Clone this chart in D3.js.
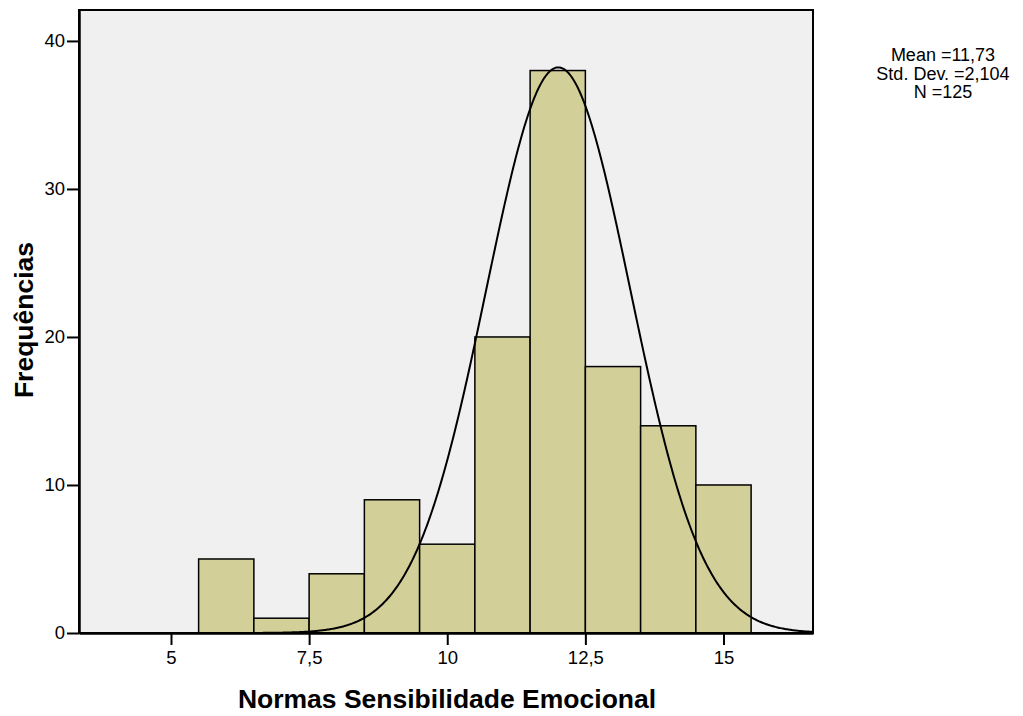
<!DOCTYPE html>
<html lang="pt">
<head>
  <meta charset="UTF-8">
  <title>Normas Sensibilidade Emocional</title>
  <script src="https://d3js.org/d3.v7.min.js"></script>
  <style>
    body { margin: 0; background: #fff; }
    svg { display: block; font-family: Arial, "Liberation Sans", sans-serif; }
  </style>
</head>
<body>
  <svg id="chart" width="1023" height="716"></svg>

  <script>
    // histogram bins (lower edge) and counts
    const binStarts = [5.5, 6.5, 7.5, 8.5, 9.5, 10.5, 11.5, 12.5, 13.5, 14.5];
    const binWidth = 1;
    const counts = [5, 1, 4, 9, 6, 20, 38, 18, 14, 10];

    const xTicks = [5, 7.5, 10, 12.5, 15];
    const xTickLabels = ["5", "7,5", "10", "12,5", "15"];
    const yTicks = [0, 10, 20, 30, 40];

    // fitted normal curve, as drawn
    const curveMean = 12.01;
    const curveSd = 1.305;
    const curveN = 125;

    const statLines = ["Mean =11,73", "Std. Dev. =2,104", "N =125"];

    const svg = d3.select("#chart");
    const plotL = 79, plotR = 813, plotT = 10, plotB = 633;

    const x = d3.scaleLinear().domain([3.335, 16.62]).range([plotL, plotR]);
    const y = d3.scaleLinear().domain([0, 42.09]).range([plotB, plotT]);

    // plot background
    svg.append("rect")
      .attr("x", plotL).attr("y", plotT)
      .attr("width", plotR - plotL).attr("height", plotB - plotT)
      .attr("fill", "#f0f0f0");

    // bars
    svg.append("g")
      .selectAll("rect")
      .data(counts)
      .join("rect")
      .attr("x", (d, i) => x(binStarts[i]))
      .attr("y", d => y(d))
      .attr("width", (d, i) => x(binStarts[i] + binWidth) - x(binStarts[i]))
      .attr("height", d => y(0) - y(d))
      .attr("fill", "#d3cf99")
      .attr("stroke", "#000")
      .attr("stroke-width", 1.5);

    // normal curve
    const dens = v => curveN * binWidth / (curveSd * Math.sqrt(2 * Math.PI)) *
      Math.exp(-0.5 * Math.pow((v - curveMean) / curveSd, 2));
    const xs = d3.range(x.domain()[0], x.domain()[1], 0.02);
    svg.append("path")
      .datum(xs)
      .attr("fill", "none")
      .attr("stroke", "#000")
      .attr("stroke-width", 2)
      .attr("d", d3.line().x(d => x(d)).y(d => y(dens(d))));

    // frame
    svg.append("rect")
      .attr("x", plotL).attr("y", plotT)
      .attr("width", plotR - plotL).attr("height", plotB - plotT)
      .attr("fill", "none")
      .attr("stroke", "#000")
      .attr("stroke-width", 2);

    // axes
    const xAxis = d3.axisBottom(x)
      .tickValues(xTicks)
      .tickFormat((d, i) => xTickLabels[i])
      .tickSize(12)
      .tickSizeOuter(0)
      .tickPadding(6);
    const gx = svg.append("g")
      .attr("transform", `translate(0,${plotB})`)
      .call(xAxis);

    const yAxis = d3.axisLeft(y)
      .tickValues(yTicks)
      .tickSize(12)
      .tickSizeOuter(0)
      .tickPadding(2);
    const gy = svg.append("g")
      .attr("transform", `translate(${plotL},0)`)
      .call(yAxis);

    [gx, gy].forEach(g => {
      g.select(".domain").attr("stroke", "#000").attr("stroke-width", 2.5);
      g.selectAll(".tick line").attr("stroke", "#000").attr("stroke-width", 2);
      g.selectAll(".tick text")
        .attr("fill", "#000")
        .attr("font-size", 18.5)
        .attr("font-family", "Arial, 'Liberation Sans', sans-serif");
    });

    // axis titles
    svg.append("text")
      .attr("x", 447).attr("y", 708)
      .attr("text-anchor", "middle")
      .attr("font-size", 26.5)
      .attr("font-weight", "bold")
      .text("Normas Sensibilidade Emocional");

    svg.append("text")
      .attr("transform", "translate(33,320) rotate(-90)")
      .attr("text-anchor", "middle")
      .attr("font-size", 26.5)
      .attr("font-weight", "bold")
      .text("Frequências");

    // stats box
    svg.append("g")
      .selectAll("text")
      .data(statLines)
      .join("text")
      .attr("x", 943)
      .attr("y", (d, i) => 61 + i * 18.5)
      .attr("text-anchor", "middle")
      .attr("font-size", 18)
      .text(d => d);
  </script>
</body>
</html>
